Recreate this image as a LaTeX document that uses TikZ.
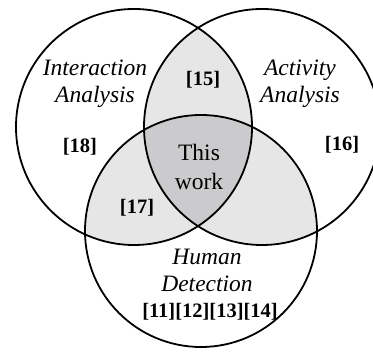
\documentclass[tikz,border=0pt]{standalone}
\usepackage{fontspec}
\setmainfont{Liberation Serif}
\begin{document}
\begin{tikzpicture}[x=1pt,y=-1pt,
  circ/.style={draw=black,line width=1.8pt},
  lab/.style={font=\fontsize{23.5}{27}\selectfont\itshape,align=center,inner sep=0pt},
  ref/.style={font=\fontsize{20.5}{24}\selectfont\bfseries,inner sep=0pt},
  plain/.style={font=\fontsize{23.5}{29}\selectfont,align=center,inner sep=0pt}]
\definecolor{lightg}{RGB}{230,230,231}
\definecolor{darkg}{RGB}{203,203,205}
\useasboundingbox (0,0) rectangle (373,352);
\def\leftc{(134,127) circle[radius=118]}
\def\rightc{(262,127) circle[radius=118]}
\def\botc{(201,231) circle[radius=116]}
\begin{scope}\clip \leftc; \fill[lightg] \rightc; \end{scope}
\begin{scope}\clip \leftc; \fill[lightg] \botc; \end{scope}
\begin{scope}\clip \rightc; \fill[lightg] \botc; \end{scope}
\begin{scope}\clip \leftc; \clip \rightc; \fill[darkg] \botc; \end{scope}
\draw[circ] \leftc;
\draw[circ] \rightc;
\draw[circ] \botc;
\node[lab] (ia) at (95,84) {Interaction\\Analysis};
\node[lab] (aa) at (300,84) {Activity\\Analysis};
\node[lab] (hd) at (207,270) {Human\\Detection};
\node[plain] (tw) at (199,167) {This\\work};
\node[ref] (r15) at (203,80) {[15]};
\node[ref] (r18) at (80,147) {[18]};
\node[ref] (r16) at (342,145) {[16]};
\node[ref] (r17) at (137,208) {[17]};
\node[ref] (r11) at (210,312) {[11][12][13][14]};
\end{tikzpicture}
\end{document}
